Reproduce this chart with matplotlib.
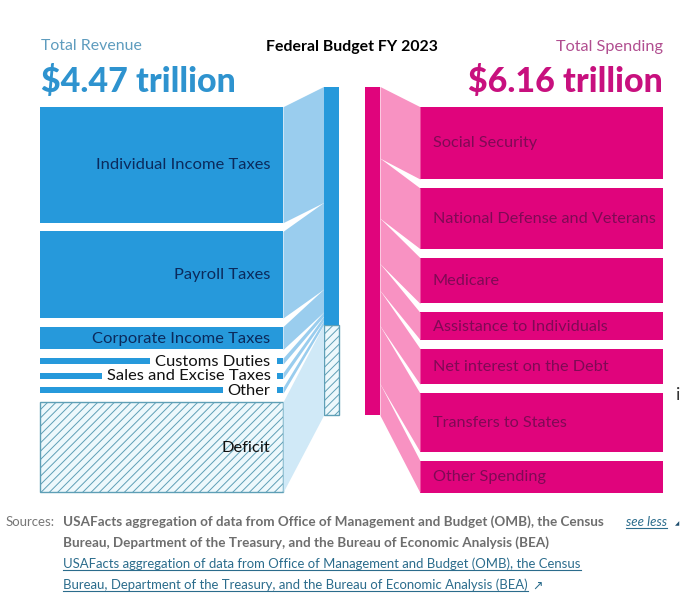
import matplotlib
matplotlib.use('Agg')
import matplotlib.pyplot as plt

plt.rcParams['font.family'] = ['Lato', 'DejaVu Sans']
plt.rcParams['hatch.linewidth'] = 0.7

# values in trillions of dollars
revenue_names = ['Individual Income Taxes', 'Payroll Taxes', 'Corporate Income Taxes',
                 'Customs Duties', 'Sales and Excise Taxes', 'Other', 'Deficit']
revenue_values = [2.18, 1.63, 0.43, 0.08, 0.08, 0.08, 1.70]
spending_names = ['Social Security', 'National Defense and Veterans', 'Medicare',
                  'Assistance to Individuals', 'Net interest on the Debt',
                  'Transfers to States', 'Other Spending']
spending_values = [1.36, 1.14, 0.86, 0.51, 0.67, 1.10, 0.60]

scale = 53.2
center_scale = 52.7
min_height = 6
blue = '#2699DB'
blue_light = '#9ACDEE'
blue_pale = '#D0E9F7'
pink = '#E0047C'
pink_light = '#F892C2'
hatch_edge = '#5E9FB6'
hatch_face = '#EDF8FC'

fig = plt.figure(figsize=(6.8, 6.05), dpi=100)
ax = fig.add_axes([0, 0, 1, 1])
ax.set_xlim(0, 680)
ax.set_ylim(605, 0)
ax.axis('off')
renderer = fig.canvas.get_renderer()

# revenue side
y = 106.7
yc = 86.5
for name, v in zip(revenue_names, revenue_values):
    h = max(v * scale, min_height)
    hc = v * scale
    deficit = name == 'Deficit'
    if deficit:
        ax.barh(y, 243, h, left=40, align='edge', facecolor=hatch_face,
                edgecolor=hatch_edge, hatch='////', linewidth=1)
        ax.bar(323.5, hc, 15, bottom=yc, align='edge', facecolor=hatch_face,
               edgecolor=hatch_edge, hatch='////', linewidth=1)
    else:
        ax.barh(y, 243, h, left=40, align='edge', color=blue, linewidth=0)
    ax.fill_between([283, 323.5], [y, yc], [y + h, yc + hc],
                    color=blue_pale if deficit else blue_light, linewidth=0)
    small = v < 0.2
    t = ax.text(270.5, y + h / 2 - 1, name, ha='right', va='center_baseline', fontsize=11.85,
                color='#0B2A5C' if not small and not deficit else '#111111', zorder=4)
    if small:
        # white gap in the thin bars, kept under all of the labels
        bb = t.get_window_extent(renderer)
        ax.barh(y - 0.5, bb.width + 11, h + 1, left=bb.x0 - 5, align='edge', color='white',
                linewidth=0, zorder=3)
    y += h + 8.6
    yc += hc
ax.bar(323.5, sum(revenue_values[:-1]) * scale, 15, bottom=86.5, align='edge', color=blue, linewidth=0)

# spending side
y = 106.7
yc = 86.5
for name, v in zip(spending_names, spending_values):
    h = v * scale
    hc = v * center_scale
    ax.barh(y, 243, h, left=420, align='edge', color=pink, linewidth=0)
    ax.fill_between([380, 420], [yc, y], [yc + hc, y + h], color=pink_light, linewidth=0)
    ax.text(433, y + h / 2 - 1, name, ha='left', va='center_baseline', fontsize=11.7,
            color='#7F0A55', zorder=4)
    y += h + 9
    yc += hc
ax.bar(365, sum(spending_values) * center_scale, 15, bottom=86.5, align='edge', color=pink, linewidth=0)

# headers
ax.text(41, 45, 'Total Revenue', fontsize=11.4, color='#5E9CBE', va='center_baseline')
ax.text(663, 45, 'Total Spending', fontsize=11.7, color='#B14E90', va='center_baseline', ha='right')
ax.text(351.5, 45, 'Federal Budget FY 2023', fontsize=11.4, fontweight='bold', color='black',
        va='center_baseline', ha='center')
ax.text(41, 78, '$4.47 trillion', fontsize=24.5, fontweight=900, color='#2E93CF',
        va='center_baseline', parse_math=False)
ax.text(663, 78, '$6.16 trillion', fontsize=24.5, fontweight=900, color='#C8107E',
        va='center_baseline', ha='right', parse_math=False)

# sources
source_lines = ['USAFacts aggregation of data from Office of Management and Budget (OMB), the Census',
                'Bureau, Department of the Treasury, and the Bureau of Economic Analysis (BEA)']
ax.text(6, 521, 'Sources:', fontsize=9.5, color='#777777', va='center_baseline')
link_color = '#2B6C8C'
for i, line in enumerate(source_lines):
    ax.text(63, 521 + i * 21, line, fontsize=9.7, fontweight='bold', color='#6E6E6E',
            va='center_baseline')
    t = ax.text(63, 563 + i * 21, line, fontsize=9.45, color=link_color, va='center_baseline')
    bb = t.get_window_extent(renderer)
    ax.plot([bb.x0, bb.x1], [570 + i * 21] * 2, color=link_color, lw=0.8)
t = ax.text(626, 521, 'see less', fontsize=9.5, style='italic', color=link_color, va='center_baseline')
bb = t.get_window_extent(renderer)
ax.plot([bb.x0, bb.x1], [528, 528], color=link_color, lw=0.8)

# external link icon and the cut-off bits at the right edge of the screenshot
ax.text(532, 585, '\u2197', fontsize=9, color=link_color, va='center_baseline', family='DejaVu Sans')
ax.text(675, 523, '\u25e2', fontsize=4, color='#1E4E6E', va='center_baseline', family='DejaVu Sans')
ax.text(676, 393, 'i', fontsize=13, color='#333333', va='center_baseline')

fig.savefig('out.png', dpi=100)
